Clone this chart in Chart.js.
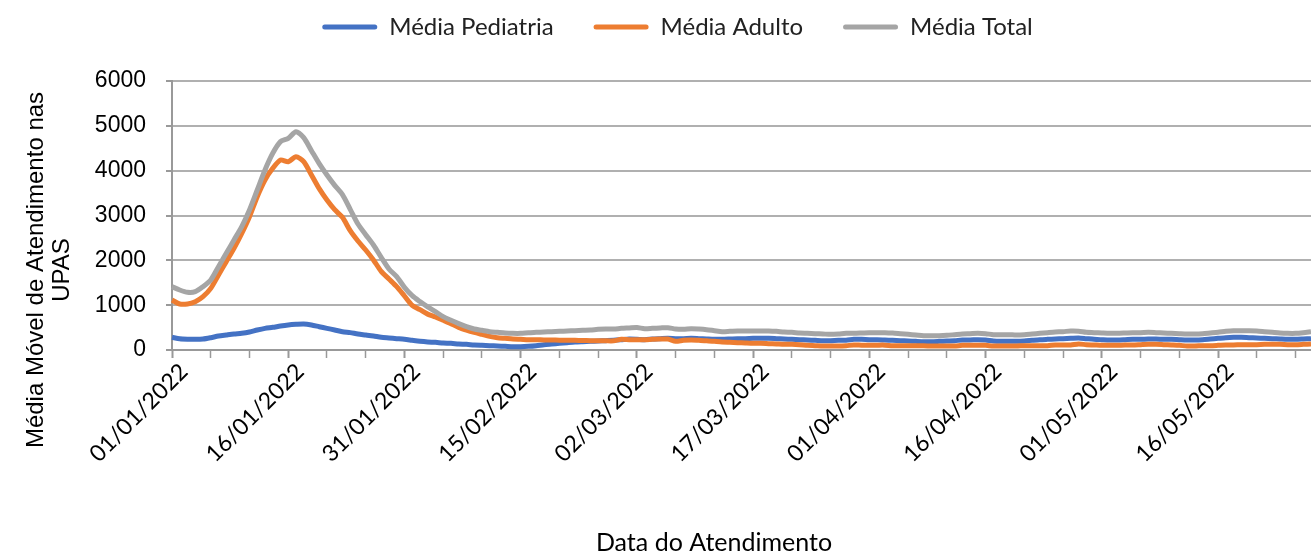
<!DOCTYPE html>
<html>
<head>
<meta charset="utf-8">
<script src="https://cdn.jsdelivr.net/npm/chart.js@4.4.1/dist/chart.umd.min.js"></script>
<style>
  html, body { margin: 0; padding: 0; background: #fff; }
  #wrap { width: 1311px; height: 553px; }
</style>
</head>
<body>
<div id="wrap"><canvas id="myChart" width="1311" height="553"></canvas></div>
<script>
// daily moving averages, 01/01/2022 -> 28/05/2022
const pediatria = [
    283, 250, 240, 238, 245, 275, 312, 335, 357, 372, 401, 446, 483, 506, 535, 558, 572,
    580, 558, 520, 483, 446, 409, 387, 357, 335, 312, 283, 268, 253, 238, 216, 195, 180,
    171, 156, 149, 134, 126, 112, 104, 97, 89, 82, 74, 74, 82, 97, 119, 134, 149, 164, 178, 186, 193, 201, 208, 216, 230, 245, 240,
    230, 245, 253, 260, 253, 253, 260, 253, 245, 238, 238, 245, 253, 253, 260, 260, 260, 253, 245, 238, 230, 223, 216, 208, 208, 216, 216,
    238, 238, 230, 230, 223, 216, 208, 201, 193, 186, 186, 193, 201, 208, 223, 223, 230, 223, 201, 193, 193, 193, 201, 216, 230, 238, 245, 253, 260,
    268, 253, 238, 230, 223, 223, 230, 238, 238, 245, 245, 238, 238, 230, 223, 223, 230, 245, 260, 275, 283, 283, 275, 268, 260, 253, 245, 238, 238, 245, 253
];
const adulto = [
    1115, 1026, 1026, 1078, 1190, 1375, 1673, 1970, 2268, 2602, 2974, 3420, 3792, 4052, 4238, 4200, 4312,
    4201, 3903, 3599, 3346, 3130, 2959, 2662, 2431, 2230, 2007, 1755, 1584, 1413, 1205, 996, 900, 800,
    736, 662, 587, 506, 446, 394, 349, 305, 275, 260, 245, 238, 230, 230, 225, 223, 220, 216, 216, 212, 208, 208, 205, 205, 238, 230, 228,
    230, 238, 245, 245, 193, 216, 223, 216, 208, 193, 178, 171, 164, 156, 149, 149, 141, 134, 126, 126, 119, 104, 97, 89, 89, 89, 97,
    112, 108, 108, 108, 108, 93, 93, 93, 93, 93, 89, 89, 89, 89, 104, 104, 104, 104, 89, 89, 89, 89, 97, 97, 97, 97, 112, 112, 112,
    134, 119, 112, 104, 104, 104, 112, 112, 119, 126, 126, 119, 112, 104, 89, 89, 97, 97, 104, 112, 112, 119, 119, 119, 126, 126, 126, 119, 119, 126, 134
];
const total = [
    1413, 1338, 1286, 1300, 1413, 1561, 1859, 2156, 2454, 2751, 3123, 3569, 4015, 4387, 4647, 4721, 4870,
    4736, 4446, 4156, 3903, 3673, 3465, 3138, 2810, 2572, 2342, 2067, 1807, 1636, 1398, 1212, 1080, 960,
    855, 743, 662, 587, 520, 468, 439, 409, 394, 379, 372, 372, 387, 394, 401, 409, 416, 424, 431, 439, 446, 461, 468, 468, 483, 491, 500,
    476, 483, 491, 498, 468, 461, 476, 468, 454, 431, 409, 416, 424, 424, 424, 424, 424, 416, 401, 394, 379, 372, 364, 357, 349, 357, 372,
    372, 379, 387, 387, 387, 379, 364, 349, 335, 320, 320, 320, 327, 342, 357, 364, 372, 364, 342, 342, 342, 335, 342, 357, 372, 387, 401, 409, 424,
    420, 394, 387, 379, 372, 372, 379, 387, 387, 394, 387, 379, 372, 364, 357, 357, 364, 379, 394, 416, 431, 431, 431, 424, 409, 394, 379, 372, 372, 387, 409
];
const tickLabels = ['01/01/2022', '16/01/2022', '31/01/2022', '15/02/2022', '02/03/2022',
    '17/03/2022', '01/04/2022', '16/04/2022', '01/05/2022', '16/05/2022'];
const yTicks = [0, 1000, 2000, 3000, 4000, 5000, 6000];
const seriesNames = ['Média Pediatria', 'Média Adulto', 'Média Total'];
const colors = ['#4472C4', '#ED7D31', '#A5A5A5'];
const xTitle = 'Data do Atendimento';
const yTitle = ['Média Móvel de Atendimento nas', 'UPAS'];

// one category per day
const dates = [];
for (let i = 0; i < pediatria.length; i++) {
    const d = new Date(2022, 0, 1 + i);
    dates.push(String(d.getDate()).padStart(2, '0') + '/' + String(d.getMonth() + 1).padStart(2, '0') + '/' + d.getFullYear());
}

const gridGray = '#b0b0b0';
const axisGray = '#999999';

// legend sits above the plot, plot starts at y=81
const legendSpot = {
    id: 'legendSpot',
    beforeUpdate(chart) {
        const lg = chart.legend;
        if (lg && !lg._patched) {
            const fit = Object.getPrototypeOf(lg).fit;
            lg.fit = function () {
                fit.call(this);
                this.height = 81;
            };
            lg._patched = true;
        }
    },
    afterLayout(chart) {
        const lg = chart.legend;
        lg.top = -25;
        lg.bottom = lg.top + 81;
        lg.left += 22;
        lg.right += 22;
    }
};

const axisTitles = {
    id: 'axisTitles',
    afterDraw(chart) {
        const ctx = chart.ctx;
        ctx.save();
        ctx.fillStyle = '#000';
        ctx.textAlign = 'center';
        ctx.textBaseline = 'middle';
        ctx.font = '25px Lato';
        ctx.fillText(xTitle, 714, 543);
        ctx.translate(36, 270);
        ctx.rotate(-Math.PI / 2);
        ctx.font = '24px "Liberation Sans"';
        ctx.fillText(yTitle[0], 0, 0);
        ctx.fillText(yTitle[1], 0, 26);
        ctx.restore();
    }
};

const seriesData = [pediatria, adulto, total];
const datasets = seriesData.map((arr, k) => ({
    label: seriesNames[k],
    data: arr,
    borderColor: colors[k],
    backgroundColor: colors[k],
    borderWidth: 5,
    pointRadius: 0,
    tension: 0.25,
    fill: false,
    order: 2 - k
}));

new Chart(document.getElementById('myChart'), {
    type: 'line',
    data: { labels: dates, datasets: datasets },
    options: {
        responsive: false,
        animation: false,
        layout: { padding: 0 },
        plugins: {
            tooltip: { enabled: false },
            legend: {
                position: 'top',
                labels: {
                    boxWidth: 55,
                    boxHeight: 5,
                    padding: 40,
                    color: '#222',
                    font: { family: 'Lato', size: 24 },
                    useBorderRadius: true,
                    borderRadius: 2.5,
                    sort: (a, b) => a.datasetIndex - b.datasetIndex,
                    generateLabels(chart) {
                        const items = Chart.defaults.plugins.legend.labels.generateLabels(chart);
                        items.forEach(it => { it.lineWidth = 0; it.fillStyle = colors[it.datasetIndex]; });
                        return items;
                    }
                }
            }
        },
        scales: {
            x: {
                offset: false,
                afterFit(scale) {
                    scale.height = 203;
                    scale.paddingRight = 0;
                },
                grid: {
                    drawOnChartArea: false,
                    drawTicks: true,
                    tickLength: 8,
                    tickColor: c => (c.index % 5 === 0 ? axisGray : 'rgba(0,0,0,0)'),
                    tickWidth: c => (c.index % 15 === 0 ? 2 : 1.5)
                },
                border: { display: true, color: axisGray, width: 2 },
                ticks: {
                    autoSkip: false,
                    maxRotation: 45,
                    minRotation: 45,
                    padding: 0,
                    labelOffset: 12,
                    color: '#000',
                    font: { family: 'Lato', size: 23 },
                    callback(val) {
                        const l = this.getLabelForValue(val);
                        return tickLabels.includes(l) ? l : '';
                    }
                }
            },
            y: {
                min: yTicks[0],
                max: yTicks[yTicks.length - 1],
                afterFit(scale) { scale.width = 172; },
                afterBuildTicks(scale) { scale.ticks = yTicks.map(v => ({ value: v })); },
                grid: {
                    color: gridGray,
                    lineWidth: 2,
                    tickLength: 6,
                    tickColor: axisGray
                },
                border: { display: true, color: axisGray, width: 2 },
                ticks: {
                    padding: 20,
                    color: '#000',
                    font: { family: 'Liberation Sans', size: 23 },
                    callback: v => String(v)
                }
            }
        }
    },
    plugins: [legendSpot, axisTitles]
});
</script>
</body>
</html>
